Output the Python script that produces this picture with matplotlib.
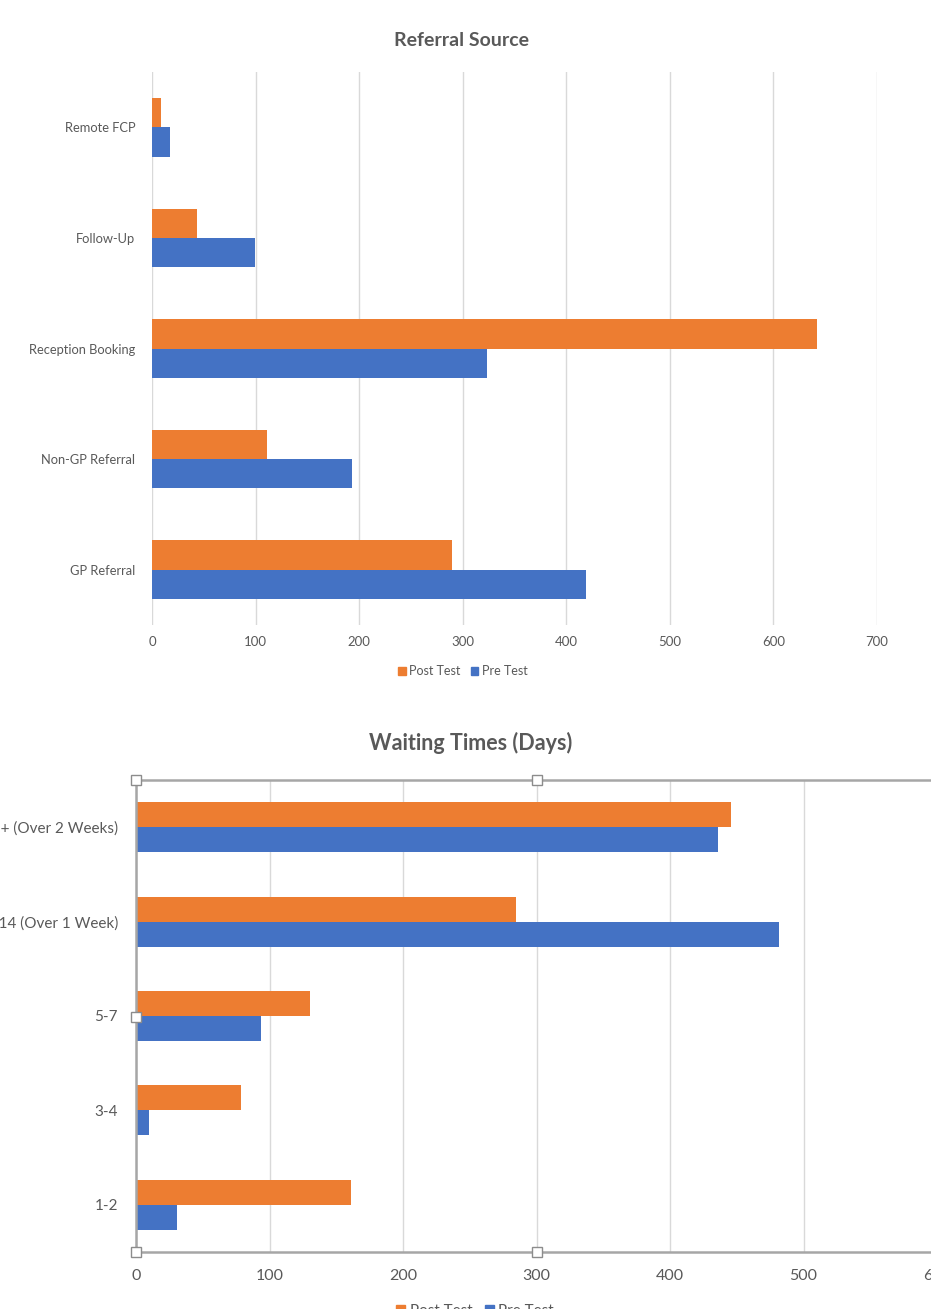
import matplotlib
matplotlib.use("Agg")
import matplotlib.pyplot as plt
import numpy as np
from matplotlib.patches import Rectangle, Patch

plt.rcParams['font.family'] = ['Lato', 'DejaVu Sans']

ref_categories = ["GP Referral", "Non-GP Referral", "Reception Booking", "Follow-Up", "Remote FCP"]
ref_post = [290, 111, 642, 43, 9]
ref_pre = [419, 193, 323, 99, 17]
ref_ticks = [0, 100, 200, 300, 400, 500, 600, 700]

wait_categories = ["1-2", "3-4", "5-7", "8-14 (Over 1 Week)", "14 + (Over 2 Weeks)"]
wait_post = [161, 79, 130, 285, 446]
wait_pre = [31, 10, 94, 482, 436]
wait_ticks = [0, 100, 200, 300, 400, 500, 600]

ORANGE = "#ED7D31"
BLUE = "#4472C4"
GRID = "#D9D9D9"
TXT = "#595959"

W, H = 931, 1309
fig = plt.figure(figsize=(W/100, H/100), dpi=100)

def ax_rect(l, t, r, b):
    return [l/W, 1 - b/H, (r-l)/W, (b-t)/H]

def style(ax, ticks, fs_tick, fs_cat, cats):
    ax.set_xlim(ticks[0], ticks[-1])
    ax.set_ylim(-0.5, len(cats) - 0.5)
    ax.set_xticks(ticks)
    ax.set_yticks(np.arange(len(cats)))
    ax.set_yticklabels(cats)
    for s in ax.spines.values():
        s.set_visible(False)
    ax.xaxis.grid(True, color=GRID, lw=1)
    ax.set_axisbelow(True)
    ax.tick_params(axis='both', length=0, colors=TXT)
    ax.tick_params(axis='x', labelsize=fs_tick, pad=8)
    ax.tick_params(axis='y', labelsize=fs_cat, pad=12)

# Top chart
ax1 = fig.add_axes(ax_rect(152, 72, 877, 625))
y = np.arange(len(ref_categories))
h = 0.265
ax1.barh(y + h/2, ref_post, height=h, color=ORANGE, label="Post Test")
ax1.barh(y - h/2, ref_pre, height=h, color=BLUE, label="Pre Test")
style(ax1, ref_ticks, 9.5, 9.3, ref_categories)
ax1.set_xticklabels([str(t) for t in ref_ticks])
fig.text(461/W, 1 - 40/H, "Referral Source", ha='center', va='center',
         fontsize=14, fontweight='bold', color=TXT)
handles = [Patch(color=ORANGE, label="Post Test"), Patch(color=BLUE, label="Pre Test")]
fig.legend(handles=handles, loc='center', bbox_to_anchor=(463/W, 1 - 671/H), ncol=2,
           frameon=False, fontsize=9, labelcolor=TXT, handlelength=0.6, handleheight=0.6,
           handletextpad=0.3, columnspacing=0.8)

# Bottom chart
ax2 = fig.add_axes(ax_rect(136, 780, 937, 1252))
y2 = np.arange(len(wait_categories))
ax2.barh(y2 + h/2, wait_post, height=h, color=ORANGE)
ax2.barh(y2 - h/2, wait_pre, height=h, color=BLUE)
style(ax2, wait_ticks, 11.5, 11, wait_categories)
ax2.tick_params(axis='y', pad=13)
ax2.tick_params(axis='x', pad=12)
for side in ('left', 'top', 'bottom'):
    ax2.spines[side].set_visible(True)
    ax2.spines[side].set_color("#A6A6A6")
    ax2.spines[side].set_linewidth(1.8)
fig.text(471/W, 1 - 743/H, "Waiting Times (Days)", ha='center', va='center',
         fontsize=15.5, fontweight='bold', color=TXT)
fig.legend(handles=handles, loc='center', bbox_to_anchor=(475/W, 1 - 1311/H), ncol=2,
           frameon=False, fontsize=11, labelcolor=TXT, handlelength=0.6, handleheight=0.6,
           handletextpad=0.3, columnspacing=0.8)

# selection handles
for (hx, hy) in [(136, 780), (537, 780), (136, 1017), (136, 1252), (537, 1252)]:
    fig.patches.append(Rectangle(((hx-5)/W, 1 - (hy+5)/H), 10/W, 10/H,
                                 transform=fig.transFigure, facecolor='white',
                                 edgecolor='#8C8C8C', lw=1, zorder=10))

fig.savefig("out.png", dpi=100, facecolor='white')
